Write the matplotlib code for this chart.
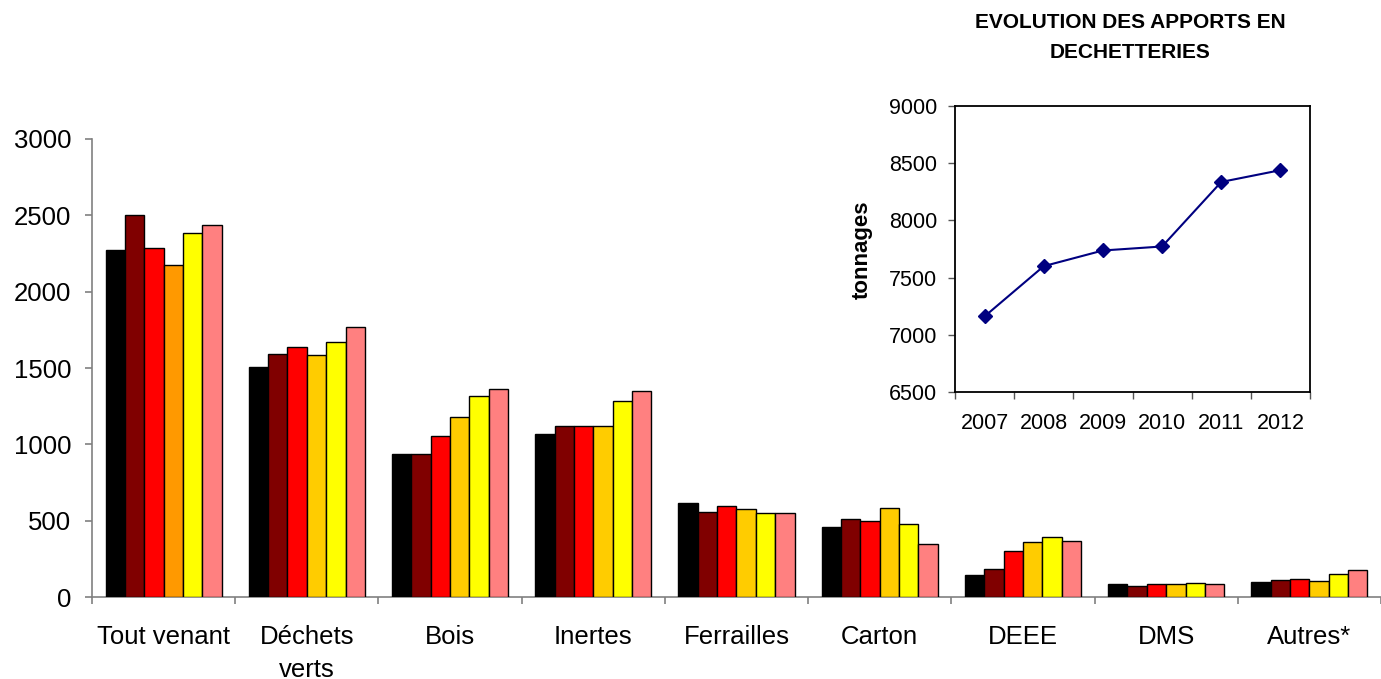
import matplotlib
matplotlib.use("Agg")
import matplotlib.pyplot as plt
import numpy as np

plt.rcParams['font.family'] = ['Liberation Sans', 'DejaVu Sans']

categories = ["Tout venant", "Déchets\nverts", "Bois", "Inertes", "Ferrailles",
              "Carton", "DEEE", "DMS", "Autres*"]
years = ["2007", "2008", "2009", "2010", "2011", "2012"]

v2007 = [2273, 1509, 940, 1071, 615, 460, 144, 89, 100]
v2008 = [2500, 1592, 936, 1121, 556, 515, 188, 76, 111]
v2009 = [2282, 1640, 1058, 1121, 600, 502, 305, 87, 122]
v2010 = [2173, 1584, 1178, 1121, 578, 587, 360, 85, 107]
v2011 = [2382, 1671, 1319, 1287, 554, 482, 393, 96, 150]
v2012 = [2437, 1769, 1363, 1352, 554, 349, 371, 85, 177]
series = [v2007, v2008, v2009, v2010, v2011, v2012]

colors = ["#000000", "#800000", "#FF0000", "#FFCC00", "#FFFF00", "#FF8080"]
# the 2010 bar of the first category is drawn in orange in the reference
special_colors = {(3, 0): "#FF9900"}

total_years = ["2007", "2008", "2009", "2010", "2011", "2012"]
total_values = [7161, 7600, 7737, 7772, 8336, 8439]

W, H = 1381, 679
fig = plt.figure(figsize=(W / 100, H / 100), dpi=100)

# ---- main bar chart
ax = fig.add_axes([92 / W, 1 - 597.3 / H, (W - 92) / W, (597.3 - 138.7) / H])
n = len(series)
bw = 0.135
centers = np.arange(len(categories)) + 0.5
for j, vals in enumerate(series):
    xs = centers + (j - (n - 1) / 2) * bw
    cols = [special_colors.get((j, i), colors[j]) for i in range(len(categories))]
    ax.bar(xs, vals, width=bw, color=cols, edgecolor="black", linewidth=1.0, zorder=3)

ax.set_xlim(0, (W - 92) / 144.5)
ax.set_ylim(0, 3000)
ax.set_yticks(np.arange(0, 3001, 500))
ax.set_xticks(np.arange(0, len(categories) + 1))
ax.set_xticklabels([])
ax.set_xticks(centers, minor=True)
ax.set_xticklabels(categories, minor=True)
for lbl in ax.get_xminorticklabels():
    lbl.set_linespacing(1.45)
for s in ["top", "right"]:
    ax.spines[s].set_visible(False)
for s in ["left", "bottom"]:
    ax.spines[s].set_color("#808080")
    ax.spines[s].set_linewidth(1.2)
ax.tick_params(axis="x", which="major", length=5, color="#808080", width=1.2, direction="out")
ax.tick_params(axis="x", which="minor", length=0, pad=20, labelsize=18.5)
ax.tick_params(axis="y", length=5, color="#808080", width=1.2, direction="out", pad=10, labelsize=18.5)

# ---- inset line chart
L, R, T, B = 955, 1310, 106, 392
ax2 = fig.add_axes([L / W, 1 - B / H, (R - L) / W, (B - T) / H])
xi = np.arange(len(total_years)) + 0.5
ax2.plot(xi, total_values, color="#000080", marker="D", markersize=7, linewidth=1.5, zorder=3)
ax2.set_xlim(0, len(total_years))
ax2.set_ylim(6500, 9000)
ax2.set_yticks(np.arange(6500, 9001, 500))
ax2.set_xticks(np.arange(0, len(total_years) + 1))
ax2.set_xticklabels([])
ax2.set_xticks(xi, minor=True)
ax2.set_xticklabels(total_years, minor=True)
for s in ax2.spines.values():
    s.set_color("black")
    s.set_linewidth(1.3)
ax2.tick_params(axis="x", which="major", length=5, width=1.0, color="#555555", direction="out")
ax2.tick_params(axis="x", which="minor", length=0, pad=15, labelsize=15.5)
ax2.tick_params(axis="y", length=5, width=1.0, color="#555555", direction="out", pad=8, labelsize=15.5)

fig.text(862 / W, 1 - 250 / H, "tonnages", rotation=90, ha="center", va="center",
         fontsize=16, fontweight="bold")
fig.text(1130 / W, 1 - 23 / H, "EVOLUTION DES APPORTS EN", ha="center", va="center",
         fontsize=15, fontweight="bold")
fig.text(1130 / W, 1 - 52 / H, "DECHETTERIES", ha="center", va="center",
         fontsize=15, fontweight="bold")

fig.savefig("out.png", dpi=100)
